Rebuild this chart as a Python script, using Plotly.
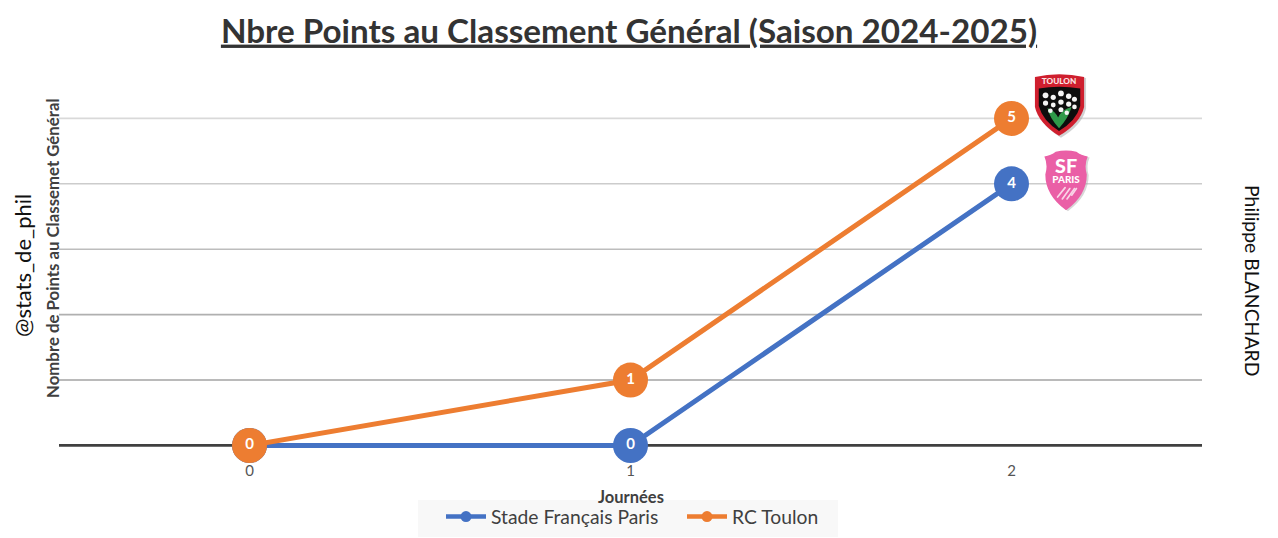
import base64
import plotly.graph_objects as go

journees = [0, 1, 2]
stade = [0, 0, 4]
toulon = [0, 1, 5]
series_names = ["Stade Français Paris", "RC Toulon"]
grid_levels = [1, 2, 3, 4, 5]
grid_colors = ["#a3a3a3", "#b0b0b0", "#bdbdbd", "#cccccc", "#d9d9d9"]
BLUE = "#4472c4"
ORANGE = "#ed7d31"
FONT = "Lato, Noto Sans, sans-serif"

OFF = 8  # the page body adds an 8 px margin
W, H = 1270, 530
ML, MR, MT, MB = 51, 76, 45, 86
PW, PH = W - ML - MR, H - MT - MB


def px(x):
    return (x - OFF - ML) / PW


def py(y):
    return 1 - (y - OFF - MT) / PH


def uri(svg):
    return "data:image/svg+xml;base64," + base64.b64encode(svg.encode()).decode()


toulon_svg = """<svg xmlns='http://www.w3.org/2000/svg' viewBox='0 0 56 68'>
<path d='M4 6 Q29 0 55 6 L55 38 Q51 55 29 68 Q8 55 4 38Z' fill='#9a9a9a' opacity='.45'/>
<path d='M2 5 Q27 -1 53 5 L53 36 Q49 53 27 66 Q6 53 2 36Z' fill='#cf1f2e'/>
<path d='M6 17 Q27 13 49 17 L49 35 Q45 50 27 61 Q10 50 6 35Z' fill='#0d0d0d'/>
<path d='M27 58 Q17 47 15 37 Q23 40 26 47 Q29 39 40 36 Q37 47 27 58Z' fill='#2f9a4a'/>
<g fill='#f4f4f4'><circle cx='13' cy='24' r='3'/><circle cx='21' cy='26' r='2.7'/><circle cx='29' cy='22' r='3'/>
<circle cx='37' cy='25' r='2.8'/><circle cx='43' cy='28' r='2.6'/><circle cx='13' cy='32' r='2.7'/><circle cx='21' cy='34' r='2.5'/><circle cx='29' cy='31' r='2.8'/>
<circle cx='37' cy='33' r='2.7'/><circle cx='43' cy='36' r='2.4'/><circle cx='18' cy='40' r='2.4'/><circle cx='29' cy='39' r='2.6'/><circle cx='35' cy='42' r='2.3'/></g>
<text x='27' y='12' font-family='Lato' font-weight='900' font-size='8.5' fill='#fbe3e3' text-anchor='middle'>TOULON</text>
</svg>"""

paris_svg = """<svg xmlns='http://www.w3.org/2000/svg' viewBox='0 0 52 66'>
<path d='M4 8 Q11 7 16 3 Q27 0 37 3 Q42 7 50 8 Q46 17 49 27 Q49 49 27 65 Q5 49 5 27 Q8 17 4 8Z' fill='#9a9a9a' opacity='.4'/>
<path d='M2 7 Q9 6 14 2 Q25 -1 36 2 Q41 6 48 7 Q44 16 47 26 Q47 48 25 64 Q3 48 3 26 Q6 16 2 7Z' fill='#ea5fa6'/>
<g stroke='#f9d5e7' stroke-width='1.8' stroke-linecap='round'><path d='M16 50 L24 40'/><path d='M21 52 L29 41'/><path d='M26 52 L34 41'/><path d='M31 48 L36 41'/></g>
<text x='25' y='24' font-family='Lato' font-weight='900' font-size='21' fill='#ffffff' text-anchor='middle'>SF</text>
<text x='25' y='35' font-family='Lato' font-weight='900' font-size='10.5' fill='#ffffff' text-anchor='middle'>PARIS</text>
</svg>"""

fig = go.Figure()

for name, values, color in [(series_names[0], stade, BLUE), (series_names[1], toulon, ORANGE)]:
    fig.add_trace(go.Scatter(
        x=journees, y=values, mode="lines+markers+text", showlegend=False, cliponaxis=False,
        line=dict(color=color, width=5),
        marker=dict(color=color, size=35),
        text=[str(v) for v in values], textposition="middle center",
        textfont=dict(color="white", size=15, family=FONT, weight="bold"),
        hoverinfo="skip",
    ))
    # legend key with the small marker of the reference
    fig.add_trace(go.Scatter(
        x=[None], y=[None], mode="lines+markers", name=name,
        line=dict(color=color, width=4.5), marker=dict(color=color, size=11),
    ))

shapes = [
    dict(type="line", xref="paper", x0=0, x1=1, yref="y", y0=lv, y1=lv,
         line=dict(color=c, width=1.6), layer="below")
    for lv, c in zip(grid_levels, grid_colors)
]
shapes.append(dict(type="line", xref="paper", x0=0, x1=1, yref="y", y0=0, y1=0,
                   line=dict(color="#404040", width=2.8), layer="below"))
# pale legend panel
shapes.append(dict(type="rect", xref="paper", yref="paper", x0=px(418), x1=px(838), y0=py(537), y1=py(500),
                   line=dict(width=0), fillcolor="#f8f8f8", layer="below"))

fig.update_layout(
    width=W, height=H, autosize=False,
    margin=dict(l=ML, r=MR, t=MT, b=MB, pad=0),
    paper_bgcolor="white", plot_bgcolor="white",
    font=dict(family=FONT, color="#404040"),
    title=dict(
        text="<u>Nbre Points au Classement Général (Saison 2024-2025)</u>",
        x=(629 - OFF) / W, xanchor="center", y=1 - (31 - OFF) / H, yanchor="middle",
        font=dict(size=33.2, color="#333333", family=FONT, weight="bold"),
    ),
    xaxis=dict(
        range=[-0.5, 2.5], tickvals=journees, ticktext=[str(j) for j in journees],
        showgrid=False, zeroline=False, showline=False, ticks="", ticklabelstandoff=8,
        tickfont=dict(size=15, color="#555555"),
    ),
    yaxis=dict(
        range=[-0.1, 6], tickvals=grid_levels, showticklabels=False,
        showgrid=False, zeroline=False, showline=False, ticks="",
    ),
    shapes=shapes,
    images=[
        dict(source=uri(toulon_svg), xref="paper", yref="paper", xanchor="center", yanchor="middle",
             x=px(1060), y=py(105), sizex=54 / PW, sizey=66 / PH, sizing="contain", layer="above"),
        dict(source=uri(paris_svg), xref="paper", yref="paper", xanchor="center", yanchor="middle",
             x=px(1067), y=py(181), sizex=49 / PW, sizey=63 / PH, sizing="contain", layer="above"),
    ],
    legend=dict(
        orientation="h", x=(441 - OFF) / W, xref="container", xanchor="left",
        y=1 - (517 - OFF) / H, yref="container", yanchor="middle",
        bgcolor="rgba(0,0,0,0)", font=dict(size=19.3, color="#404040"),
        itemwidth=40, entrywidth=186, entrywidthmode="pixels", traceorder="normal",
    ),
    annotations=[
        dict(text="<b>Nombre de Points au Classemet Général</b>", xref="paper", yref="paper",
             x=px(52), y=py(248), textangle=-90, showarrow=False, xanchor="center", yanchor="middle",
             font=dict(size=16.8, color="#404040")),
        dict(text="@stats_de_phil", xref="paper", yref="paper",
             x=px(22), y=py(266), textangle=-90, showarrow=False, xanchor="center", yanchor="middle",
             font=dict(size=22, color="#111111")),
        dict(text="Philippe BLANCHARD", xref="paper", yref="paper",
             x=px(1253), y=py(280), textangle=90, showarrow=False, xanchor="center", yanchor="middle",
             font=dict(size=19.4, color="#111111")),
        dict(text="<b>Journées</b>", xref="paper", yref="paper",
             x=px(631), y=py(497), showarrow=False, xanchor="center", yanchor="middle",
             font=dict(size=16.5, color="#404040")),
    ],
)

fig.write_html("out.html")
